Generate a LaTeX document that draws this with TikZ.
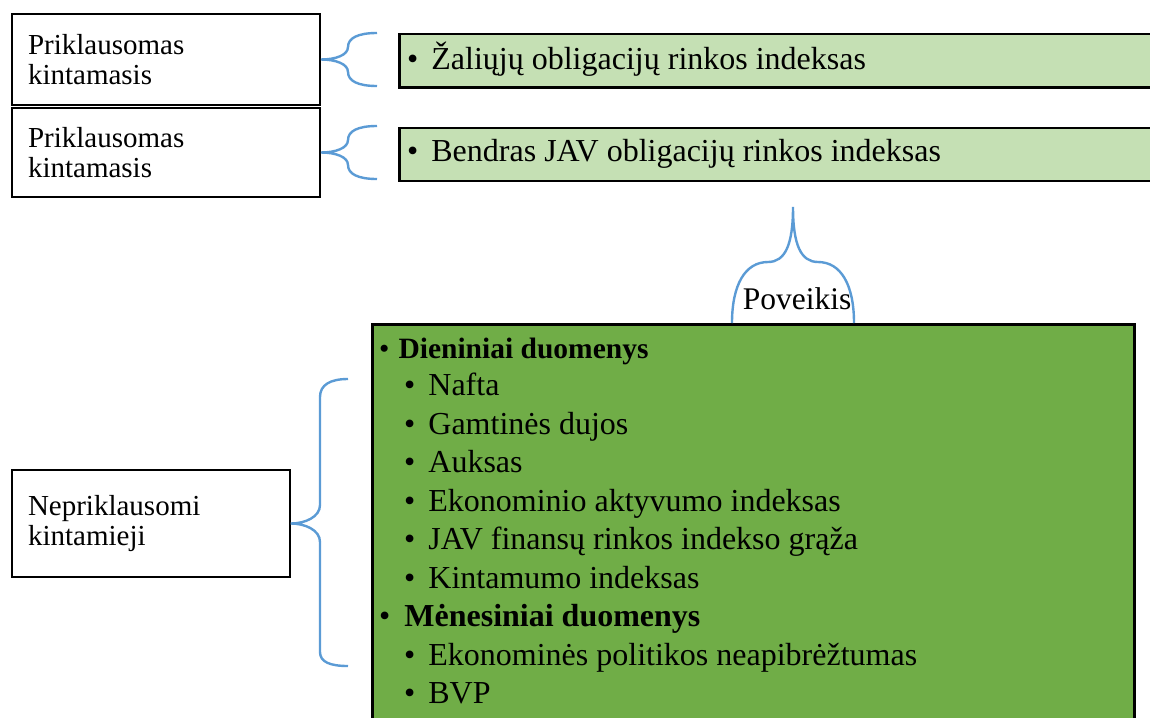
\documentclass[tikz,border=0pt]{standalone}
\usepackage{fontspec}
\setmainfont{Liberation Serif}
\definecolor{lightgreen}{HTML}{C5E0B4}
\definecolor{leafgreen}{HTML}{70AD47}
\definecolor{braceblue}{HTML}{5B9BD5}
\tikzset{
    varbox/.style={draw=black, line width=1.6pt, align=left, inner xsep=16pt,
        font=\fontsize{29}{29.5}\selectfont},
    greenbox/.style={draw=black, fill=lightgreen, line width=2.5pt, anchor=north west,
        minimum width=800pt, minimum height=53pt},
    curly/.style={draw=braceblue, line width=2.4pt},
    entry/.style={anchor=base west, inner sep=0pt, font=\fontsize{32}{38}\selectfont}
}
\begin{document}
\begin{tikzpicture}[x=1pt,y=1pt]
    \useasboundingbox (0,0) rectangle (1150,-717);
    \clip (0,0) rectangle (1150,-717);
    % dependent variables
    \node (dep1) [varbox, minimum width=308pt, minimum height=91pt, text width=276pt]
        at (166,-59.5) {Priklausomas\\kintamasis};
    \node (dep2) [varbox, minimum width=308pt, minimum height=89pt, text width=276pt]
        at (166,-152.5) {Priklausomas\\kintamasis};
    \node (green1) [greenbox] at (398,-33) {};
    \node (green2) [greenbox] at (398,-126.5) {};
    \node (green1txt) [entry] at (407,-69) {\textbullet\hspace{13pt}Žaliųjų obligacijų rinkos indeksas};
    \node (green2txt) [entry] at (407,-161.5) {\textbullet\hspace{13pt}Bendras JAV obligacijų rinkos indeksas};
    \coordinate (b1t) at (377,-33);
    \coordinate (b1b) at (377,-86);
    \coordinate (b2t) at (377,-126);
    \coordinate (b2b) at (377,-179);
    \draw[curly] (b1t) .. controls (358,-33) and (348,-38) .. (348,-47)
        .. controls (348,-55) and (336,-59.5) .. (dep1.east)
        .. controls (336,-59.5) and (348,-64) .. (348,-72)
        .. controls (348,-81) and (358,-86) .. (b1b);
    \draw[curly] (b2t) .. controls (358,-126) and (348,-131) .. (348,-140)
        .. controls (348,-148) and (336,-152.5) .. (dep2.east)
        .. controls (336,-152.5) and (348,-157) .. (348,-165)
        .. controls (348,-174) and (358,-179) .. (b2b);
    % independent variables
    \node (indep) [varbox, minimum width=278pt, minimum height=107pt, text width=246pt]
        at (151,-523.5) {Nepriklausomi\\kintamieji};
    \node (data) [draw=black, fill=leafgreen, line width=2.5pt, anchor=north west,
        minimum width=762pt, minimum height=430pt] at (371,-323) {};
    \coordinate (b3t) at (348,-379);
    \coordinate (b3b) at (348,-666);
    \draw[curly] (b3t) .. controls (330,-379) and (320,-385) .. (320,-397) -- (320,-505)
        .. controls (320,-517) and (305,-523.5) .. (indep.east)
        .. controls (305,-523.5) and (320,-530) .. (320,-542) -- (320,-652)
        .. controls (320,-662) and (330,-666) .. (b3b);
    % effect
    \coordinate (pl) at (732,-323);
    \coordinate (pr) at (854,-323);
    \coordinate (ptip) at (793,-207);
    \draw[curly] (pl) .. controls (732,-285) and (745,-262) .. (768,-262)
        .. controls (785,-262) and (793,-245) .. (ptip)
        .. controls (793,-245) and (801,-262) .. (818,-262)
        .. controls (841,-262) and (854,-285) .. (pr);
    \node (poveikis) [anchor=base, inner sep=0pt, font=\fontsize{31.5}{38}\selectfont]
        at (797,-309) {Poveikis};
    % data list
    \node (daily) [entry, font=\fontsize{29.5}{38}\selectfont] at (379,-358)
        {\textbullet\hspace{9pt}\textbf{Dieniniai duomenys}};
    \node (oil) [entry] at (404,-395.5) {\textbullet\hspace{13pt}Nafta};
    \node (gas) [entry] at (404,-434) {\textbullet\hspace{13pt}Gamtinės dujos};
    \node (gold) [entry] at (404,-472.5) {\textbullet\hspace{13pt}Auksas};
    \node (activity) [entry] at (404,-511) {\textbullet\hspace{13pt}Ekonominio aktyvumo indeksas};
    \node (stocks) [entry] at (404,-549.5) {\textbullet\hspace{13pt}JAV finansų rinkos indekso grąža};
    \node (vol) [entry] at (404,-588) {\textbullet\hspace{13pt}Kintamumo indeksas};
    \node (monthly) [entry] at (379,-626.5) {\textbullet\hspace{14pt}\textbf{Mėnesiniai duomenys}};
    \node (policy) [entry] at (404,-665) {\textbullet\hspace{13pt}Ekonominės politikos neapibrėžtumas};
    \node (gdp) [entry] at (404,-703.5) {\textbullet\hspace{13pt}BVP};
\end{tikzpicture}
\end{document}
